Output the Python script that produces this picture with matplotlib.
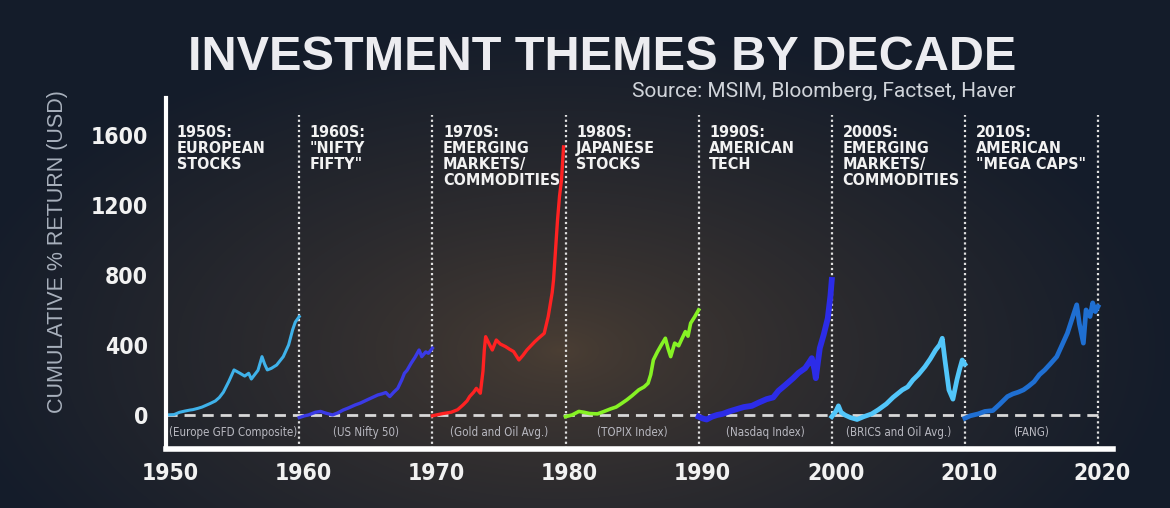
import numpy as np
import matplotlib
matplotlib.use("Agg")
import matplotlib.pyplot as plt
import matplotlib.transforms as mtrans

# ---- data ----
decades = [1950, 1960, 1970, 1980, 1990, 2000, 2010]
themes = ['1950S:\nEUROPEAN\nSTOCKS',
          '1960S:\n"NIFTY\nFIFTY"',
          '1970S:\nEMERGING\nMARKETS/\nCOMMODITIES',
          '1980S:\nJAPANESE\nSTOCKS',
          '1990S:\nAMERICAN\nTECH',
          '2000S:\nEMERGING\nMARKETS/\nCOMMODITIES',
          '2010S:\nAMERICAN\n"MEGA CAPS"']
indexes = ['(Europe GFD Composite)', '(US Nifty 50)', '(Gold and Oil Avg.)',
           '(TOPIX Index)', '(Nasdaq Index)', '(BRICS and Oil Avg.)', '(FANG)']
colors = ['#3fb2ea', '#3a3ae6', '#ff2222', '#86f224', '#2c2ce8', '#52c6fa', '#1f6fd2']
widths = [2.2, 2.4, 2.4, 2.6, 4.2, 3.4, 3.4]

t50 = [1950.0, 1950.6, 1951.0, 1951.4, 1951.8, 1952.0, 1952.4, 1952.7, 1953.0, 1953.3,
       1953.7, 1954.0, 1954.3, 1954.7, 1955.1, 1955.5, 1955.9, 1956.2, 1956.4, 1956.6,
       1956.9, 1957.2, 1957.4, 1957.6, 1957.9, 1958.3, 1958.8, 1959.2, 1959.5, 1959.7, 1960.0]
v50 = [0, 2, 15, 22, 28, 30, 38, 45, 55, 65,
       80, 100, 130, 190, 257, 240, 222, 238, 205, 225,
       255, 333, 290, 257, 266, 285, 333, 400, 486, 530, 562]

t60 = [1960.0, 1960.4, 1960.7, 1961.2, 1961.6, 1962.0, 1962.5, 1962.9, 1963.3, 1963.7,
       1964.2, 1964.6, 1965.1, 1965.5, 1965.9, 1966.2, 1966.5, 1966.8, 1967.1, 1967.4,
       1967.7, 1967.9, 1968.1, 1968.4, 1968.7, 1969.0, 1969.2, 1969.5, 1969.7, 1970.0]
v60 = [-15, -5, 0, 15, 20, 10, 0, 12, 28, 40,
       57, 68, 86, 100, 114, 120, 128, 105, 130, 152,
       200, 238, 255, 295, 330, 371, 333, 360, 352, 381]

t70 = [1970.0, 1970.3, 1970.8, 1971.4, 1971.9, 1972.3, 1972.6, 1972.8, 1973.1, 1973.3,
       1973.6, 1973.8, 1973.9, 1974.0, 1974.3, 1974.5, 1974.8, 1975.1, 1975.5, 1975.8,
       1976.1, 1976.5, 1976.8, 1977.1, 1977.4, 1977.7, 1978.0, 1978.4, 1978.7, 1979.0,
       1979.1, 1979.4, 1979.55, 1979.7, 1979.85]
v70 = [-5, 0, 8, 15, 30, 57, 80, 105, 130, 152,
       124, 250, 371, 447, 400, 371, 428, 405, 390, 375,
       362, 314, 340, 371, 395, 419, 440, 466, 562, 700,
       771, 1114, 1250, 1343, 1531]

t80 = [1980.0, 1980.5, 1981.0, 1981.4, 1981.8, 1982.4, 1982.9, 1983.4, 1983.8, 1984.2,
       1984.6, 1985.0, 1985.5, 1985.9, 1986.2, 1986.4, 1986.6, 1986.9, 1987.2, 1987.5,
       1987.7, 1987.9, 1988.2, 1988.5, 1988.7, 1989.0, 1989.2, 1989.4, 1989.7, 1990.0]
v80 = [-10, 0, 20, 15, 8, 6, 20, 35, 45, 65,
       86, 110, 143, 160, 181, 230, 314, 360, 400, 438,
       380, 333, 410, 395, 428, 476, 450, 524, 560, 600]

t90 = [1990.0, 1990.3, 1990.6, 1991.0, 1991.4, 1991.8, 1992.3, 1992.9, 1993.4, 1994.0,
       1994.5, 1995.1, 1995.6, 1996.0, 1996.5, 1997.1, 1997.5, 1998.0, 1998.3, 1998.5,
       1998.7, 1998.8, 1999.1, 1999.4, 1999.7, 1999.9, 2000.0]
v90 = [-10, -20, -26, -10, 0, 6, 20, 34, 45, 52,
       70, 90, 100, 138, 170, 210, 240, 267, 300, 324,
       260, 210, 381, 460, 552, 680, 771]

t00 = [2000.0, 2000.3, 2000.5, 2000.7, 2001.0, 2001.4, 2001.9, 2002.4, 2003.0, 2003.5,
       2004.1, 2004.6, 2005.3, 2005.7, 2006.1, 2006.5, 2007.0, 2007.4, 2007.8, 2008.1,
       2008.3, 2008.5, 2008.7, 2008.8, 2009.1, 2009.4, 2009.6, 2009.8, 2010.0]
v00 = [-10, 20, 52, 15, -1, -15, -26, -10, 6, 30,
       63, 100, 143, 160, 200, 230, 276, 320, 371, 400,
       438, 314, 200, 143, 90, 200, 260, 314, 290]

t10 = [2010.0, 2010.4, 2011.0, 2011.5, 2012.1, 2012.6, 2013.2, 2013.6, 2014.0, 2014.4,
       2014.8, 2015.2, 2015.6, 2016.0, 2016.4, 2016.9, 2017.3, 2017.7, 2018.1, 2018.4,
       2018.6, 2018.9, 2019.1, 2019.4, 2019.6, 2019.8, 2020.0]
v10 = [-19, -5, 6, 20, 25, 60, 105, 120, 130, 143,
       165, 190, 230, 257, 290, 333, 400, 467, 560, 629,
       520, 410, 600, 562, 640, 590, 619]

times = [t50, t60, t70, t80, t90, t00, t10]
values = [v50, v60, v70, v80, v90, v00, v10]

xticks = [1950, 1960, 1970, 1980, 1990, 2000, 2010, 2020]
yticks = [0, 400, 800, 1200, 1600]

narrow = ['DejaVu Sans']

fig = plt.figure(figsize=(11.7, 5.08), dpi=100)

# background glow
bg = fig.add_axes([0, 0, 1, 1])
yy, xx = np.mgrid[0:508, 0:1170]
d = np.sqrt(((xx - 560) / 620.0) ** 2 + ((yy - 350) / 330.0) ** 2)
d = np.clip(d, 0, 1) ** 0.7
c_in = np.array([76, 63, 52]) / 255.0
c_out = np.array([20, 28, 42]) / 255.0
img = c_in[None, None, :] * (1 - d[..., None]) + c_out[None, None, :] * d[..., None]
bg.imshow(img, aspect='auto', extent=[0, 1, 0, 1], origin='upper')
bg.axis('off')

ax = fig.add_axes([0.142, 0.116, 0.809, 0.691])
ax.patch.set_alpha(0)

for dec in decades[1:] + [2020]:
    ax.plot([dec, dec], [-195, 1714], color='#e0e0e0', lw=1.6,
            linestyle=(0, (1, 1.3)))
ax.plot([1950, 2020], [0, 0], color='#d8d8d8', lw=2.0, linestyle=(0, (4, 2.5)))

for i in range(len(decades)):
    ax.plot(times[i], values[i], color=colors[i], lw=widths[i], solid_joinstyle='round')
    ax.text(decades[i] + 0.8, 1655, themes[i], color='#f2f2f2', fontsize=11.5,
            fontweight='bold', family=narrow, fontstretch='condensed',
            va='top', ha='left', linespacing=1.07)
    ax.text(decades[i] + 5, -103, indexes[i], color='#b8b8c0', fontsize=8.3,
            family=narrow, fontstretch='condensed', va='center', ha='center')

ax.set_xlim(1950, 2021.1)
ax.set_ylim(-195, 1810)
ax.set_xticks(xticks)
ax.set_yticks(yticks)
ax.tick_params(length=0, colors='#f2f2f2', labelsize=16.5, pad=13)
ax.tick_params(axis='x', pad=9)
shift = mtrans.ScaledTranslation(4 / 100, 0, fig.dpi_scale_trans)
for lab in ax.get_xticklabels():
    lab.set_transform(lab.get_transform() + shift)
for lab in ax.get_xticklabels() + ax.get_yticklabels():
    lab.set_fontweight('bold')
    lab.set_family(narrow)
    lab.set_fontstretch('condensed')
ax.spines['top'].set_visible(False)
ax.spines['right'].set_visible(False)
ax.spines['left'].set_color('white')
ax.spines['left'].set_linewidth(3)
ax.spines['bottom'].set_color('white')
ax.spines['bottom'].set_linewidth(4)

ax.set_ylabel('CUMULATIVE % RETURN (USD)', color='#a8b0bc', fontsize=15.5,
              family='Liberation Sans')
ax.yaxis.set_label_coords(-0.104, 0.564)

fig.text(0.515, 0.862, 'INVESTMENT THEMES BY DECADE', color='#ececf0', fontsize=35,
         fontweight='bold', family='Liberation Sans', ha='center', va='baseline')
fig.text(0.868, 0.81, 'Source: MSIM, Bloomberg, Factset, Haver', color='#d0d4da',
         fontsize=15, family='Roboto', ha='right', va='baseline')

fig.savefig('out.png', dpi=100)
